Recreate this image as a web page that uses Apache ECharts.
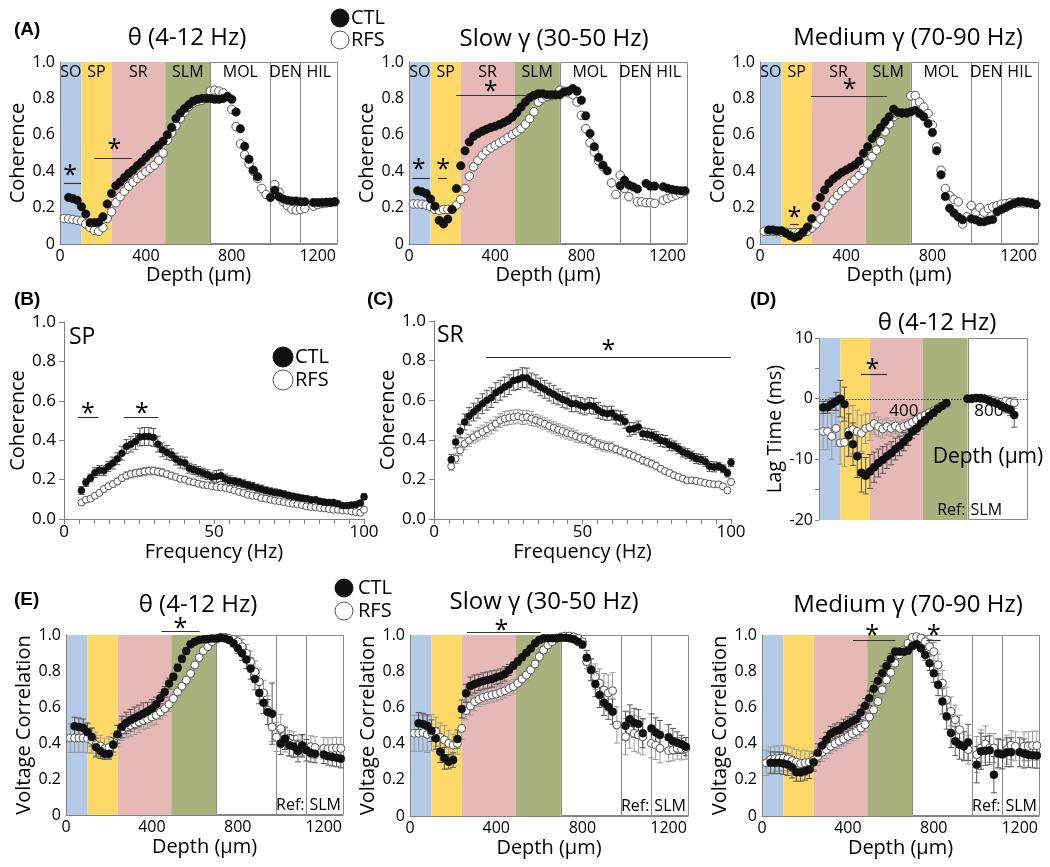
<!DOCTYPE html>
<html><head><meta charset="utf-8">
<script src="https://cdn.jsdelivr.net/npm/echarts/dist/echarts.min.js"></script>
<style>html,body{margin:0;padding:0;background:#fff}#c{width:1050px;height:867px}</style>
</head><body><div id="c"></div><script>
// ---------------- DATA ----------------
const depth = [20,40,60,80,100,120,140,160,180,200,220,240,260,280,300,320,340,360,380,400,420,440,460,480,500,520,540,560,580,600,620,640,660,680,700,720,740,760,780,800,820,840,860,880,900,920,940,960,980,1000,1020,1040,1060,1080,1100,1120,1140,1160,1180,1200,1220,1240,1260,1280];
const depthD = [20,40,60,80,100,120,140,160,180,200,220,240,260,280,300,320,340,360,380,400,420,440,460,480,500,520,540,560,580,600,700,720,740,760,780,800,820,840,860,880,900,920];
const freq = [5.8,7.3,8.8,10.3,11.8,13.3,14.8,16.3,17.8,19.3,20.8,22.3,23.8,25.3,26.8,28.3,29.8,31.3,32.8,34.3,35.8,37.3,38.8,40.3,41.8,43.3,44.8,46.3,47.8,49.3,50.8,52.3,53.8,55.3,56.8,58.3,59.8,61.3,62.8,64.3,65.8,67.3,68.8,70.3,71.8,73.3,74.8,76.3,77.8,79.3,80.8,82.3,83.8,85.3,86.8,88.3,89.8,91.3,92.8,94.3,95.8,97.3,98.8,100];
const lagDepthTickLabels = [400, 800];

const layerNames = ['SO','SP','SR','SLM','MOL','DEN','HIL'];
const layerStart = [0,100,240,490,700,980,1120];
const layerEnd   = [100,240,490,700,980,1120,1290];
const layerColors = ['#b4cbe8','#ffd966','#e6b9b7','#a9b27c','#ffffff','#ffffff','#ffffff'];

// (A) coherence vs depth
const cohThetaCTL = [null,0.256,0.25,0.24,0.205,0.165,0.117,0.118,0.12,0.15, 0.22,0.278,0.32,0.34,0.366,0.388,0.406,0.43,0.45,0.475, 0.497,0.52,0.543,0.565,0.6,0.64,0.69,0.72,0.745,0.765, 0.785,0.795,0.8,0.8,0.8,0.795,0.795,0.8,0.81,0.795, 0.725,0.633,0.537,0.466,0.406,0.37,null,null,0.256,0.296, 0.26,0.247,0.24,0.236,0.236,0.232,0.232,null,0.228,0.228, 0.228,0.23,0.23,0.232];
const cohThetaRFS = [0.14,0.138,0.135,0.13,0.126,0.11,0.09,0.075,0.07,0.09, 0.14,0.177,0.227,0.26,0.29,0.318,0.34,0.36,0.378,0.397, 0.415,0.433,0.46,0.5,0.57,0.61,0.65,0.69,0.725,0.755, 0.775,0.785,0.79,0.8,0.84,0.845,0.84,0.83,0.81,0.74, 0.645,0.55,0.49,0.44,0.4,0.36,0.305,0.272,null,0.327, 0.285,0.232,0.21,0.19,0.186,0.19,0.195,null,0.208,0.217, 0.222,0.225,0.228,0.232];
const cohSlowCTL = [null,0.293,0.287,0.278,0.247,0.208,0.13,0.11,0.137,0.19, 0.305,0.43,0.512,0.561,0.592,0.607,0.62,0.63,0.64,0.647, 0.656,0.667,0.68,0.698,0.722,0.753,0.78,0.804,0.817,0.826, 0.826,0.82,0.82,0.82,0.82,0.835,0.84,0.854,0.84,0.79, 0.704,0.607,0.534,0.475,0.433,0.402,null,null,0.32,0.351, 0.324,0.314,0.302,null,0.333,0.318,0.318,null,0.314,0.306, 0.3,0.296,0.293,0.293];
const cohSlowRFS = [0.22,0.22,0.218,0.214,0.205,0.19,0.186,0.19,0.19,0.19, 0.214,0.245,0.305,0.373,0.424,0.46,0.488,0.512,0.528,0.543, 0.556,0.57,0.585,0.601,0.616,0.634,0.658,0.689,0.726,0.78, 0.8,0.81,0.815,0.82,0.845,0.84,0.83,0.82,0.78,0.707, 0.634,0.556,0.506,0.457,0.424,null,0.336,0.272,0.378,0.305, 0.26,null,0.232,0.232,0.227,0.227,0.223,null,0.241,0.25, 0.26,0.269,0.278,0.287];
const cohMedCTL = [null,0.077,0.077,0.073,0.073,0.06,0.046,0.036,0.044,0.066, 0.093,0.139,0.206,0.255,0.297,0.334,0.358,0.376,0.394,0.407, 0.42,0.434,0.456,0.498,0.535,0.58,0.608,0.64,0.672,0.699, 0.741,0.723,0.72,0.72,0.726,0.735,0.717,0.699,0.662,0.613, 0.513,0.38,0.261,0.197,0.17,0.148,0.133,null,0.139,0.133, 0.122,0.122,0.131,0.135,0.177,0.19,0.2,0.213,0.223,0.232, 0.232,0.228,0.225,0.217];
const cohMedRFS = [0.07,0.07,0.07,0.068,0.066,0.065,0.063,0.062,0.062,0.064, 0.07,0.088,0.11,0.137,0.175,0.21,0.241,0.268,0.292,0.31, 0.334,0.352,0.376,0.405,0.44,0.48,0.516,0.562,0.617,0.659, 0.7,0.715,0.72,0.72,0.814,0.816,0.78,0.752,0.717,0.653, 0.533,0.405,0.305,0.265,0.245,0.232,0.11,0.15,0.212,0.17, 0.2,0.175,0.195,0.204,0.21,0.219,0.222,0.226,0.226,0.226, 0.226,0.226,0.222,0.217];

// (B) SP coherence vs frequency
const spCTL = [0.145,0.185,0.208,0.235,0.247,0.245,0.267,0.284,0.306,0.334, 0.368,0.38,0.394,0.416,0.419,0.419,0.414,0.38,0.351,0.338, 0.326,0.304,0.289,0.284,0.258,0.25,0.242,0.233,0.225,0.213, 0.216,0.22,0.203,0.194,0.191,0.186,0.179,0.171,0.166,0.157, 0.152,0.145,0.14,0.135,0.132,0.127,0.12,0.115,0.111,0.106, 0.103,0.098,0.098,0.09,0.086,0.084,0.084,0.078,0.068,0.068, 0.071,0.074,0.081,0.113];
const spCTLerr = [0.02,0.02,0.02,0.025,0.025,0.025,0.025,0.03,0.03,0.035, 0.035,0.04,0.04,0.045,0.045,0.045,0.045,0.04,0.035,0.035, 0.03,0.03,0.03,0.03,0.025,0.025,0.025,0.025,0.025,0.025, 0.03,0.03,0.025,0.025,0.02,0.02,0.02,0.02,0.02,0.02, 0.02,0.018,0.018,0.018,0.015,0.015,0.015,0.015,0.015,0.015, 0.015,0.012,0.012,0.012,0.012,0.012,0.012,0.012,0.01,0.01, 0.01,0.01,0.012,0.015];
const spRFS = [0.084,0.098,0.103,0.118,0.132,0.152,0.166,0.177,0.191,0.208, 0.22,0.228,0.233,0.236,0.241,0.244,0.244,0.24,0.236,0.228, 0.22,0.213,0.204,0.2,0.191,0.186,0.179,0.174,0.171,0.166, 0.162,0.16,0.157,0.152,0.145,0.137,0.132,0.123,0.118,0.115, 0.106,0.103,0.098,0.093,0.09,0.086,0.081,0.078,0.074,0.071, 0.064,0.061,0.059,0.056,0.054,0.051,0.047,0.047,0.044,0.042, 0.039,0.035,0.032,0.047];
const spRFSerr = [0.01,0.012,0.012,0.012,0.013,0.015,0.015,0.016,0.018,0.018, 0.02,0.02,0.02,0.02,0.02,0.02,0.02,0.02,0.02,0.018, 0.018,0.016,0.016,0.015,0.015,0.015,0.014,0.014,0.014,0.013, 0.013,0.013,0.012,0.012,0.012,0.012,0.011,0.011,0.011,0.01, 0.01,0.01,0.01,0.01,0.01,0.01,0.01,0.01,0.01,0.01, 0.01,0.01,0.01,0.01,0.01,0.01,0.01,0.01,0.01,0.01, 0.01,0.01,0.01,0.012];

// (C) SR coherence vs frequency
const srCTL = [0.3,0.389,0.444,0.49,0.519,0.54,0.56,0.582,0.6,0.613, 0.638,0.65,0.667,0.678,0.7,0.704,0.714,0.712,0.692,0.683, 0.667,0.655,0.641,0.63,0.616,0.604,0.596,0.582,0.582,0.574, 0.566,0.574,0.569,0.549,0.537,0.532,0.535,0.515,0.51,0.493, 0.453,0.456,0.465,0.431,0.428,0.423,0.411,0.397,0.392,0.375, 0.369,0.355,0.338,0.33,0.318,0.305,0.301,0.291,0.266,0.263, 0.266,0.254,0.232,0.285];
const srCTLerr = [0.025,0.03,0.035,0.04,0.045,0.045,0.05,0.05,0.05,0.05, 0.05,0.05,0.05,0.05,0.05,0.05,0.05,0.05,0.045,0.045, 0.045,0.045,0.045,0.045,0.04,0.04,0.04,0.04,0.04,0.04, 0.04,0.04,0.04,0.04,0.035,0.035,0.035,0.035,0.035,0.035, 0.035,0.03,0.03,0.03,0.03,0.03,0.03,0.03,0.03,0.03, 0.025,0.025,0.025,0.025,0.025,0.025,0.025,0.025,0.025,0.025, 0.02,0.02,0.02,0.02];
const srRFS = [0.266,0.305,0.347,0.38,0.397,0.414,0.428,0.439,0.453,0.465, 0.481,0.498,0.507,0.512,0.515,0.519,0.512,0.515,0.507,0.498, 0.49,0.481,0.47,0.461,0.451,0.444,0.434,0.428,0.418,0.409, 0.406,0.397,0.386,0.377,0.369,0.364,0.364,0.352,0.343,0.335, 0.327,0.318,0.308,0.296,0.288,0.279,0.268,0.254,0.242,0.232, 0.221,0.212,0.204,0.195,0.195,0.192,0.187,0.182,0.178,0.175, 0.175,0.165,0.145,0.187];
const srRFSerr = [0.02,0.025,0.025,0.03,0.03,0.03,0.035,0.035,0.035,0.035, 0.035,0.035,0.035,0.035,0.035,0.035,0.035,0.035,0.035,0.03, 0.03,0.03,0.03,0.03,0.03,0.03,0.03,0.03,0.03,0.025, 0.025,0.025,0.025,0.025,0.025,0.025,0.025,0.02,0.02,0.02, 0.02,0.02,0.02,0.02,0.02,0.02,0.02,0.015,0.015,0.015, 0.015,0.015,0.015,0.015,0.015,0.015,0.012,0.012,0.012,0.012, 0.012,0.012,0.012,0.015];

// (D) theta lag time vs depth
const lagCTL = [-1.45,-1.4,-0.9,-0.46,0,-0.9,-6.0,-7.5,-9.5,-12.2, -12.7,-12.0,-11.3,-10.6,-10.1,-9.5,-9.0,-8.3,-7.8,-7.1, -6.4,-5.4,-4.9,-4.1,-3.5,-2.8,-2.3,-1.7,-1.2,-0.7, 0,0,0.1,0.1,0,-0.3,-0.6,-0.85,-1.2,-1.55,-1.8,-2.7];
const lagCTLerr = [1.0,1.0,1.0,1.5,3.0,2.8,3.5,3.5,3.5,3.2, 3.0,2.8,2.5,2.3,2.2,2.0,1.9,1.8,1.6,1.5, 1.3,1.2,1.0,0.9,0.8,0.7,0.6,0.5,0.4,0.4, 0.2,0.2,0.2,0.2,0.3,0.3,0.4,0.5,0.6,0.8,1.0,2.0];
const lagRFS = [-5.4,-5.4,-6.2,-4.9,-7.3,-7.2,-5.4,-5.1,-5.4,-5.7, -4.9,-4.7,-4.1,-4.6,-5.0,-4.6,-4.9,-4.5,-4.9,-4.6, -4.3,-3.9,-3.5,-3.0,-2.7,-2.3,-2.0,-1.55,-1.2,-0.85, 0,0.05,0.1,0.05,0,-0.1,-0.3,-0.5,-0.6,-0.4,-0.6,-0.7];
const lagRFSerr = [3.0,3.0,3.8,3.0,3.5,4.0,4.2,4.0,3.5,3.0, 2.5,2.2,1.8,1.6,1.5,1.4,1.3,1.3,1.2,1.1, 1.0,0.9,0.8,0.7,0.6,0.5,0.4,0.4,0.3,0.3, 0.2,0.2,0.2,0.2,0.2,0.2,0.2,0.2,0.4,0.6,0.8,0.9];

// (E) voltage correlation vs depth
const vcThetaCTL = [null,0.493,0.489,0.483,0.461,0.433,0.377,0.355,0.34,0.34, 0.39,0.448,0.489,0.511,0.526,0.539,0.55,0.563,0.576,0.591, 0.615,0.65,0.684,0.73,0.768,0.818,0.868,0.911,0.948,0.963, 0.972,0.976,0.978,0.981,0.981,0.985,0.981,0.972,0.954,0.926, 0.898,0.864,0.814,0.755,0.678,0.623,0.572,0.563,null,0.396, 0.424,0.387,0.381,0.355,0.387,0.36,0.344,0.34,null,0.336, 0.327,0.322,0.318,0.312];
const vcThetaCTLerr = [0,0.05,0.05,0.05,0.05,0.05,0.05,0.04,0.03,0.03, 0.04,0.05,0.06,0.06,0.06,0.06,0.06,0.06,0.05,0.05, 0.04,0.03,0.03,0.03,0.02,0.02,0.02,0.015,0.01,0.01, 0.01,0.01,0.01,0.01,0.01,0.01,0.01,0.015,0.02,0.03, 0.04,0.05,0.06,0.06,0.06,0.06,0.07,0.17,0,0.06, 0.06,0.06,0.06,0.06,0.06,0.06,0.05,0.05,0,0.05, 0.05,0.05,0.05,0.05];
const vcThetaRFS = [0.428,0.428,0.428,0.428,0.425,0.414,0.39,0.383,0.368,0.375, 0.392,0.44,0.474,0.489,0.498,0.507,0.517,0.526,0.532,0.545, 0.554,0.572,0.591,0.615,0.647,0.684,0.716,0.749,0.786,0.833, 0.875,0.913,0.935,0.963,0.976,0.987,0.987,0.981,0.976,0.963, 0.935,0.898,0.851,0.796,0.74,0.678,0.582,0.489,0.433,0.48, 0.42,0.4,0.392,0.385,0.38,null,0.38,0.375,null,0.37, 0.368,0.37,0.372,0.37];
const vcThetaRFSerr = [0.08,0.08,0.08,0.08,0.08,0.07,0.07,0.06,0.06,0.06, 0.06,0.06,0.06,0.06,0.06,0.06,0.06,0.05,0.05,0.05, 0.05,0.04,0.04,0.04,0.03,0.03,0.03,0.03,0.03,0.03, 0.03,0.02,0.02,0.015,0.01,0.01,0.01,0.015,0.02,0.03, 0.04,0.05,0.06,0.06,0.07,0.07,0.08,0.08,0.08,0.08, 0.07,0.07,0.07,0.06,0.06,0,0.06,0.06,0,0.06, 0.06,0.06,0.06,0.06];
const vcSlowCTL = [null,0.512,0.508,0.499,0.471,0.429,0.355,0.319,0.3,0.309, 0.425,0.591,0.678,0.718,0.729,0.738,0.746,0.751,0.757,0.766, 0.773,0.785,0.807,0.831,0.853,0.877,0.902,0.926,0.954,0.972, 0.982,0.982,0.982,0.982,0.985,0.985,0.982,0.976,0.963,0.948, 0.875,0.807,0.729,0.669,0.626,0.604,0.576,null,null,0.499, 0.534,0.515,0.508,0.457,null,0.484,0.462,0.448,null,0.435, 0.414,0.405,0.396,0.383];
const vcSlowCTLerr = [0,0.06,0.06,0.06,0.06,0.06,0.06,0.06,0.04,0.04, 0.05,0.05,0.05,0.05,0.05,0.045,0.045,0.045,0.045,0.04, 0.04,0.04,0.03,0.02,0.02,0.015,0.015,0.01,0.01,0.01, 0.01,0.01,0.01,0.01,0.01,0.01,0.01,0.01,0.015,0.02, 0.04,0.06,0.07,0.07,0.07,0.07,0.07,0,0,0.08, 0.08,0.08,0.08,0.08,0,0.08,0.08,0.08,0,0.07, 0.07,0.06,0.05,0.05];
const vcSlowRFS = [0.457,0.457,0.46,0.451,0.46,0.466,0.435,0.42,0.401,0.392, 0.401,0.484,0.582,0.608,0.632,0.645,0.656,0.663,0.669,0.674, 0.683,0.692,0.705,0.715,0.733,0.757,0.779,0.807,0.84,0.88, 0.917,0.945,0.963,0.982,0.99,0.994,0.994,0.99,0.982,0.963, 0.853,0.81,0.77,0.733,0.696,0.68,0.692,0.503,null,0.438, 0.475,0.457,0.448,0.438,null,0.401,0.392,0.374,null,0.361, 0.365,0.374,0.37,0.374];
const vcSlowRFSerr = [0.1,0.1,0.1,0.1,0.1,0.08,0.08,0.08,0.07,0.06, 0.06,0.06,0.05,0.05,0.05,0.04,0.04,0.04,0.04,0.04, 0.04,0.04,0.04,0.04,0.03,0.03,0.03,0.03,0.03,0.03, 0.02,0.015,0.01,0.01,0.01,0.01,0.01,0.01,0.01,0.015, 0.04,0.06,0.07,0.08,0.09,0.1,0.1,0.1,0,0.1, 0.1,0.1,0.1,0.1,0,0.08,0.08,0.08,0,0.06, 0.06,0.06,0.06,0.06];
const vcMedCTL = [null,0.294,0.294,0.294,0.29,0.284,0.27,0.242,0.242,0.248, 0.257,0.297,0.349,0.389,0.422,0.455,0.468,0.477,0.495,0.508, 0.523,0.536,0.572,0.609,0.651,0.703,0.747,0.789,0.829,0.868, 0.908,0.908,0.908,0.914,0.939,0.949,0.927,0.89,0.844,0.789, 0.725,0.633,0.55,0.459,0.413,0.394,0.385,0.407,null,0.283, 0.358,0.36,0.363,0.228,0.345,0.34,0.352,0.352,null,0.352, 0.345,0.339,0.336,0.334];
const vcMedCTLerr = [0,0.06,0.06,0.06,0.06,0.06,0.06,0.05,0.05,0.05, 0.05,0.05,0.05,0.04,0.04,0.04,0.04,0.04,0.04,0.04, 0.04,0.04,0.04,0.04,0.04,0.04,0.04,0.04,0.03,0.03, 0.02,0.02,0.02,0.02,0.02,0.02,0.02,0.03,0.04,0.05, 0.06,0.07,0.07,0.08,0.08,0.08,0.08,0.1,0,0.1, 0.1,0.08,0.08,0.1,0.08,0.08,0.08,0.08,0,0.08, 0.08,0.07,0.07,0.07];
const vcMedRFS = [0.294,0.312,0.316,0.318,0.321,0.316,0.306,0.297,0.29,0.294, 0.297,0.308,0.33,0.352,0.367,0.385,0.4,0.413,0.426,0.44, 0.455,0.468,0.486,0.505,0.547,0.587,0.633,0.697,0.752,0.793, 0.844,0.89,0.917,0.954,0.987,0.991,0.982,0.963,0.936,0.908, 0.835,0.734,0.642,0.578,0.532,0.477,0.389,0.367,null,0.339, 0.376,0.398,0.376,0.376,0.349,null,0.367,0.391,0.385,null, 0.385,0.385,0.389,0.389];
const vcMedRFSerr = [0.07,0.07,0.07,0.07,0.07,0.07,0.07,0.07,0.07,0.07, 0.06,0.05,0.05,0.05,0.05,0.04,0.04,0.04,0.04,0.04, 0.04,0.04,0.04,0.04,0.04,0.04,0.04,0.04,0.04,0.03, 0.03,0.03,0.02,0.02,0.01,0.01,0.02,0.03,0.04,0.05, 0.06,0.07,0.07,0.08,0.08,0.08,0.08,0.08,0,0.1, 0.1,0.1,0.08,0.08,0.08,0,0.08,0.08,0.08,0, 0.08,0.08,0.08,0.08];

// significance bars: [xStart, xEnd, yLine, xStar, yStar]
const sigA1 = [[19,98,0.336,47,0.406],[160,334,0.475,253,0.548]];
const sigA2 = [[16,96,0.364,45,0.442],[135,177,0.364,158,0.442],[218,552,0.817,379,0.867]];
const sigA3 = [[236,590,0.814,416,0.88],[140,180,0.108,160,0.177]];
const sigB = [[4.6,11.5,0.52,8,0.562],[19.9,31.5,0.52,26,0.562]];
const sigC = [[17.5,100,0.818,58.7,0.877]];
const sigD = [[198,321,4.0,252,5.7]];
const sigE1 = [[444,622,1.022,533,1.065]];
const sigE2 = [[264,606,1.018,424,1.058]];
const sigE3 = [[424,621,0.972,513,1.028],[766,832,0.972,800,1.028]];

// ---------------- CHART ----------------
const FONT = "'Open Sans', sans-serif";
const F = (s, w) => (w ? w + ' ' : '') + s + "px 'Open Sans', sans-serif";
const GRIDS = [
  {left:60, top:62, width:277, height:182},   // A1
  {left:409, top:62, width:278, height:182},  // A2
  {left:760, top:62, width:278, height:182},  // A3
  {left:64, top:322, width:300, height:197},  // B
  {left:434, top:321, width:297, height:198}, // C
  {left:819, top:338, width:208, height:182}, // D
  {left:66, top:635, width:277, height:180},  // E1
  {left:410, top:635, width:278, height:181}, // E2
  {left:762, top:635, width:277, height:181}  // E3
];

function bandSeries(gi, n, xMax, yMin, yMax, labels) {
  const data = [];
  for (let i = 0; i < n; i++) data.push([layerStart[i], Math.min(layerEnd[i], xMax), i]);
  return {type:'custom', xAxisIndex:gi, yAxisIndex:gi, z:1, silent:true, clip:false, data,
    renderItem(params, api) {
      const i = api.value(2);
      const p0 = api.coord([api.value(0), yMax]);
      const p1 = api.coord([api.value(1), yMin]);
      const white = layerColors[i] === '#ffffff';
      const x0 = white ? Math.round(p0[0]) + 0.5 : p0[0];
      const x1 = white ? Math.round(p1[0]) + 0.5 : p1[0];
      const y0 = white ? Math.round(p0[1]) + 0.5 : p0[1];
      const y1 = white ? Math.round(p1[1]) - 0.5 : p1[1];
      const ch = [{type:'rect', shape:{x:x0, y:y0, width:x1 - x0, height:y1 - y0},
        style:{fill:layerColors[i], stroke: white ? '#8a8a8a' : null, lineWidth: white ? 1 : 0}}];
      if (labels) ch.push({type:'text', style:{text:layerNames[i], x:(p0[0] + p1[0]) / 2, y:p0[1] + 10,
        font:F(16), fill:'#000', align:'center', verticalAlign:'middle'}});
      return {type:'group', children:ch};
    }};
}
function refSeries(gi, xb, yMin) {
  return {type:'custom', xAxisIndex:gi, yAxisIndex:gi, z:5, silent:true, clip:false, data:[[xb, yMin]],
    renderItem(params, api) {
      const p = api.coord([api.value(0), api.value(1)]);
      return {type:'group', children:[
        {type:'text', style:{text:'Ref:', x:p[0] - 2, y:p[1] - 10, font:F(16), fill:'#000', align:'right', verticalAlign:'middle'}},
        {type:'text', style:{text:'SLM', x:p[0] + 3, y:p[1] - 10, font:F(16), fill:'#000', align:'left', verticalAlign:'middle'}}]};
    }};
}
// dotted zero line with its depth labels for panel D
function zeroAxisSeries(gi, xMin, xMax, labels) {
  const data = labels.map(v => [v, 0]);
  return {type:'custom', xAxisIndex:gi, yAxisIndex:gi, z:3, silent:true, clip:false, data,
    renderItem(params, api) {
      const p = api.coord([api.value(0), api.value(1)]);
      const ch = [{type:'text', style:{text:String(api.value(0)), x:p[0], y:p[1] + 12, font:F(17), fill:'#000', align:'center', verticalAlign:'middle'}}];
      if (params.dataIndex === 0) {
        const a = api.coord([xMin, 0]), b = api.coord([xMax, 0]);
        const yy = Math.round(a[1]) + 0.5;
        ch.push({type:'line', shape:{x1:a[0], y1:yy, x2:b[0], y2:yy}, style:{stroke:'#333', lineWidth:1.2, lineDash:[1.5, 1.5]}});
      }
      return {type:'group', children:ch};
    }};
}
function errSeries(gi, xs, ys, es, color) {
  const data = [];
  xs.forEach((x, i) => { if (ys[i] != null && es[i]) data.push([x, ys[i], es[i]]); });
  return {type:'custom', xAxisIndex:gi, yAxisIndex:gi, z:2, silent:true, clip:false, data,
    renderItem(params, api) {
      const x = api.value(0), y = api.value(1), e = api.value(2);
      const t = api.coord([x, y + e]), b = api.coord([x, y - e]);
      const w = 3, st = {stroke:color, lineWidth:1};
      return {type:'group', children:[
        {type:'line', shape:{x1:t[0], y1:t[1], x2:b[0], y2:b[1]}, style:st},
        {type:'line', shape:{x1:t[0] - w, y1:t[1], x2:t[0] + w, y2:t[1]}, style:st},
        {type:'line', shape:{x1:b[0] - w, y1:b[1], x2:b[0] + w, y2:b[1]}, style:st}]};
    }};
}
function pts(gi, xs, ys, filled, size) {
  const data = [];
  xs.forEach((x, i) => { if (ys[i] != null) data.push([x, ys[i]]); });
  return {type:'scatter', xAxisIndex:gi, yAxisIndex:gi, z: filled ? 4 : 3, symbol:'circle', symbolSize:size,
    silent:true, data,
    itemStyle: filled ? {color:'#111', borderColor:'#111', borderWidth:0.5, opacity:1}
                      : {color:'#fff', borderColor:'#555', borderWidth:1, opacity:1}};
}
function sigSeries(gi, rows) {
  return {type:'custom', xAxisIndex:gi, yAxisIndex:gi, z:6, silent:true, clip:false, data:rows,
    renderItem(params, api) {
      const a = api.coord([api.value(0), api.value(2)]), b = api.coord([api.value(1), api.value(2)]);
      const s = api.coord([api.value(3), api.value(4)]);
      const yy = Math.round(a[1]) + 0.5;
      return {type:'group', children:[
        {type:'line', shape:{x1:a[0], y1:yy, x2:b[0], y2:yy}, style:{stroke:'#333', lineWidth:1.2}},
        {type:'text', style:{text:'*', x:s[0], y:s[1] + 6, font:F(25), fill:'#000', align:'center', verticalAlign:'middle'}}]};
    }};
}

const gray = '#808080';
const TICK = 16;
function depthX(gi, max, gap) {
  return {gridIndex:gi, type:'value', min:0, max:max, interval:400, z:4,
    axisLine:{show:true, onZero:false, lineStyle:{color:gray}}, axisTick:{show:false}, splitLine:{show:false},
    axisLabel:{fontSize:TICK, color:'#000', margin:4, formatter: v => (v % 400 === 0 ? String(v) : '')},
    name:'Depth (µm)', nameLocation:'middle', nameGap:gap, nameTextStyle:{fontSize:20, color:'#000'}};
}
function unitY(gi, name, gap, fmt0, nsize) {
  return {gridIndex:gi, type:'value', min:0, max:1, interval:0.2, z:4,
    axisLine:{show:true, lineStyle:{color:gray}}, axisTick:{show:false}, splitLine:{show:false},
    axisLabel:{fontSize:TICK, color:'#000', margin:5, formatter: v => (v === 0 ? fmt0 : v.toFixed(1))},
    name:name, nameLocation:'middle', nameGap:gap, nameTextStyle:{fontSize:nsize, color:'#000'}};
}
function freqX(gi) {
  return {gridIndex:gi, type:'value', min:0, max:100, interval:50, z:4,
    axisLine:{show:true, lineStyle:{color:gray}}, axisTick:{show:true, length:5, lineStyle:{color:gray}},
    minorTick:{show:true, splitNumber:10, length:5, lineStyle:{color:gray}}, splitLine:{show:false},
    axisLabel:{fontSize:TICK + 1, color:'#000', margin:5},
    name:'Frequency (Hz)', nameLocation:'middle', nameGap:23, nameTextStyle:{fontSize:20, color:'#000'}};
}
function cohY(gi) {
  return {gridIndex:gi, type:'value', min:0, max:1, interval:0.2, z:4,
    axisLine:{show:true, lineStyle:{color:gray}}, axisTick:{show:true, length:5, lineStyle:{color:gray}}, splitLine:{show:false},
    axisLabel:{fontSize:TICK + 1, color:'#000', margin:8, formatter: v => v.toFixed(1)},
    name:'Coherence', nameLocation:'middle', nameGap:34, nameTextStyle:{fontSize:20, color:'#000'}};
}

const xAxes = [
  depthX(0, 1290, 16), depthX(1, 1290, 16), depthX(2, 1290, 16),
  freqX(3), freqX(4),
  {gridIndex:5, type:'value', min:0, max:980, interval:400, z:4,
    axisLine:{show:false, onZero:false}, axisTick:{show:false}, splitLine:{show:false}, axisLabel:{show:false}},
  depthX(6, 1290, 22), depthX(7, 1290, 22), depthX(8, 1290, 22)
];
const yAxes = [
  unitY(0, 'Coherence', 32, '0', 20), unitY(1, 'Coherence', 25, '0', 20), unitY(2, 'Coherence', 24, '0', 20),
  cohY(3), cohY(4),
  {gridIndex:5, type:'value', min:-20, max:10, interval:10, z:4,
    axisLine:{show:true, lineStyle:{color:gray}}, axisTick:{show:true, length:4, lineStyle:{color:gray}},
    minorTick:{show:true, splitNumber:2, length:4, lineStyle:{color:gray}}, splitLine:{show:false},
    axisLabel:{fontSize:TICK, color:'#000', margin:6},
    name:'Lag Time (ms)', nameLocation:'middle', nameGap:25, nameTextStyle:{fontSize:20, color:'#000'}},
  unitY(6, 'Voltage Correlation', 27, '0', 20), unitY(7, 'Voltage Correlation', 26, '0', 20), unitY(8, 'Voltage Correlation', 28, '0', 20)
];

const CTLc = '#555', RFSc = '#9a9a9a';
const series = [];
// A
[[0, cohThetaCTL, cohThetaRFS, sigA1], [1, cohSlowCTL, cohSlowRFS, sigA2], [2, cohMedCTL, cohMedRFS, sigA3]].forEach(([gi, c, r, s]) => {
  series.push(bandSeries(gi, 7, 1290, 0, 1, true));
  series.push(pts(gi, depth, r, false, 8.5));
  series.push(pts(gi, depth, c, true, 8.5));
  series.push(sigSeries(gi, s));
});
// B, C
[[3, spCTL, spCTLerr, spRFS, spRFSerr, sigB], [4, srCTL, srCTLerr, srRFS, srRFSerr, sigC]].forEach(([gi, c, ce, r, re, s]) => {
  series.push(errSeries(gi, freq, r, re, RFSc));
  series.push(errSeries(gi, freq, c, ce, CTLc));
  series.push(pts(gi, freq, r, false, 7));
  series.push(pts(gi, freq, c, true, 7));
  series.push(sigSeries(gi, s));
});
// D
series.push(bandSeries(5, 5, 980, -20, 10, false));
series.push(zeroAxisSeries(5, 0, 980, lagDepthTickLabels));
series.push(errSeries(5, depthD, lagRFS, lagRFSerr, RFSc));
series.push(errSeries(5, depthD, lagCTL, lagCTLerr, CTLc));
series.push(pts(5, depthD, lagRFS, false, 8));
series.push(pts(5, depthD, lagCTL, true, 8));
series.push(sigSeries(5, sigD));
series.push(refSeries(5, layerStart[4], -20));
// E
[[6, vcThetaCTL, vcThetaCTLerr, vcThetaRFS, vcThetaRFSerr, sigE1], [7, vcSlowCTL, vcSlowCTLerr, vcSlowRFS, vcSlowRFSerr, sigE2], [8, vcMedCTL, vcMedCTLerr, vcMedRFS, vcMedRFSerr, sigE3]].forEach(([gi, c, ce, r, re, s]) => {
  series.push(bandSeries(gi, 7, 1290, 0, 1, false));
  series.push(errSeries(gi, depth, r, re, RFSc));
  series.push(errSeries(gi, depth, c, ce, CTLc));
  series.push(pts(gi, depth, r, false, 8));
  series.push(pts(gi, depth, c, true, 8));
  series.push(sigSeries(gi, s));
  series.push(refSeries(gi, layerStart[6], 0));
});

function txt(x, y, text, size, opt) {
  opt = opt || {};
  const font = opt.family ? (opt.weight || 'normal') + ' ' + size + 'px ' + opt.family : F(size, opt.weight);
  return {type:'text', x:x, y:y, silent:true, z:10,
    style:{text:text, font:font, fill:'#000', align:opt.align || 'center', verticalAlign:'middle'}};
}
function dot(cx, cy, r, filled) {
  return {type:'circle', silent:true, z:10, shape:{cx:cx, cy:cy, r:r},
    style: filled ? {fill:'#111', stroke:'#111', lineWidth:1} : {fill:'#fff', stroke:'#555', lineWidth:1}};
}
const LET = {weight:'bold', align:'left', family:"'Liberation Sans', Arial, sans-serif"};
const graphic = [
  txt(14, 30, '(A)', 19, LET),
  txt(14, 300, '(B)', 19, LET),
  txt(367, 300, '(C)', 19, LET),
  txt(750, 300, '(D)', 19, LET),
  txt(14, 600, '(E)', 19, LET),
  txt(187, 38, 'θ (4-12 Hz)', 24),
  txt(554, 39, 'Slow γ (30-50 Hz)', 24),
  txt(908, 38, 'Medium γ (70-90 Hz)', 24),
  txt(937, 323, 'θ (4-12 Hz)', 24),
  txt(198, 605, 'θ (4-12 Hz)', 24),
  txt(544, 602, 'Slow γ (30-50 Hz)', 24),
  txt(908, 605, 'Medium γ (70-90 Hz)', 24),
  dot(340, 18, 9, true), dot(340, 40, 9, false),
  txt(351, 18, 'CTL', 20, {align:'left'}), txt(351, 40, 'RFS', 20, {align:'left'}),
  dot(283, 357, 10, true), dot(283, 380, 10, false),
  txt(295, 357, 'CTL', 20, {align:'left'}), txt(295, 380, 'RFS', 20, {align:'left'}),
  dot(344, 588, 9, true), dot(344, 611, 9, false),
  txt(358, 588, 'CTL', 20, {align:'left'}), txt(358, 611, 'RFS', 20, {align:'left'}),
  txt(69, 337, 'SP', 23, {align:'left'}),
  txt(437, 335, 'SR', 23, {align:'left'}),
  txt(988, 457, 'Depth (µm)', 21)
];

const chart = echarts.init(document.getElementById('c'), null, {renderer:'canvas', width:1050, height:867});
chart.setOption({
  animation:false,
  backgroundColor:'#ffffff',
  textStyle:{fontFamily:FONT, color:'#000'},
  grid: GRIDS.map(g => Object.assign({containLabel:false, outerBoundsMode:'none'}, g)),
  xAxis: xAxes,
  yAxis: yAxes,
  series: series,
  graphic: graphic
});
</script></body></html>
